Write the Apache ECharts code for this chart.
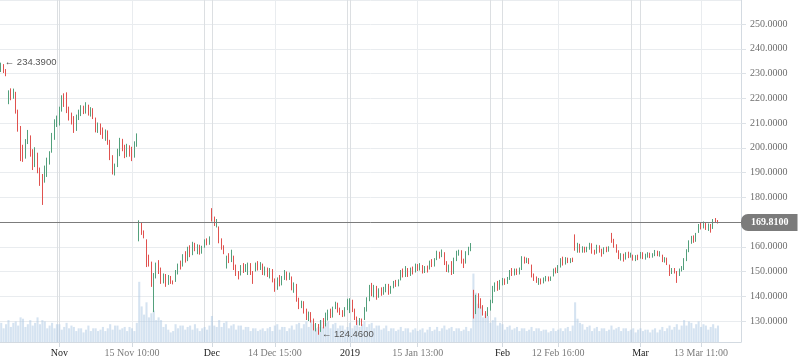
<!DOCTYPE html>
<html><head><meta charset="utf-8">
<script src="https://cdn.jsdelivr.net/npm/echarts@6/dist/echarts.min.js"></script>
<style>html,body{margin:0;padding:0;background:#fff}#c{width:798px;height:363px}</style>
</head><body><div id="c"></div>
<script>
const tradingDays = [
'2018-10-22','2018-10-23','2018-10-24','2018-10-25','2018-10-26','2018-10-29','2018-10-30','2018-10-31',
'2018-11-01','2018-11-02','2018-11-05','2018-11-06','2018-11-07','2018-11-08','2018-11-09','2018-11-12','2018-11-13','2018-11-14','2018-11-15','2018-11-16','2018-11-19','2018-11-20','2018-11-21','2018-11-23','2018-11-26','2018-11-27','2018-11-28','2018-11-29','2018-11-30',
'2018-12-03','2018-12-04','2018-12-06','2018-12-07','2018-12-10','2018-12-11','2018-12-12','2018-12-13','2018-12-14','2018-12-17','2018-12-18','2018-12-19','2018-12-20','2018-12-21','2018-12-24','2018-12-26','2018-12-27','2018-12-28','2018-12-31',
'2019-01-02','2019-01-03','2019-01-04','2019-01-07','2019-01-08','2019-01-09','2019-01-10','2019-01-11','2019-01-14','2019-01-15','2019-01-16','2019-01-17','2019-01-18','2019-01-22','2019-01-23','2019-01-24','2019-01-25','2019-01-28','2019-01-29','2019-01-30','2019-01-31',
'2019-02-01','2019-02-04','2019-02-05','2019-02-06','2019-02-07','2019-02-08','2019-02-11','2019-02-12','2019-02-13','2019-02-14','2019-02-15','2019-02-19','2019-02-20','2019-02-21','2019-02-22','2019-02-25','2019-02-26','2019-02-27','2019-02-28',
'2019-03-01','2019-03-04','2019-03-05','2019-03-06','2019-03-07','2019-03-08','2019-03-11','2019-03-12','2019-03-13','2019-03-14','2019-03-15'];
const sessions = ['a','b','c'];

const opens = [
231.5,233.2,231.0, 219.0,222.5,220.4, 222.0,214.6,208.2, 200.0,196.2,202.8, 204.0,197.5,193.2, 197.0,190.8,188.2, 188.5,190.2,194.6, 199.0,204.8,209.6,
210.5,215.4,219.8, 220.5,215.2,212.6, 211.0,207.6,212.4, 213.5,216.2,214.4, 216.6,213.8,215.2, 211.5,207.4,209.0, 207.0,204.2,206.6, 202.0,196.2,190.8,
193.0,197.8,202.6, 200.2,197.0,200.6, 198.6,197.2,201.4, 164.0,169.4,165.6, 162.6,155.6,153.2, 145.0,148.2,152.8, 151.0,146.2,148.4, 145.0,147.8,145.6,
146.0,149.8,152.6, 152.6,156.4,154.8, 159.2,157.0,160.8, 158.4,160.2,158.0, 160.0,162.2,161.4,
174.6,171.0,169.2, 167.4,162.6,159.8, 152.4,155.6,154.2, 155.8,151.8,149.0, 149.6,151.8,150.2, 150.4,153.0,149.2, 150.6,152.8,151.2, 152.6,149.6,151.0,
148.0,150.6,146.4, 143.4,146.8,145.0, 147.8,149.4,147.2, 147.4,143.2,144.4, 138.6,136.0,137.4, 134.0,131.2,133.0, 130.0,127.0,128.4, 126.2,129.6,128.4,
131.6,133.8,132.0, 135.6,137.0,134.2, 133.0,132.2,135.0,
135.6,137.8,134.4, 131.0,129.0,130.2, 131.2,134.6,138.8, 144.4,141.0,143.8, 140.4,142.6,141.2, 142.6,144.4,141.8, 143.8,145.6,144.6, 147.0,149.8,148.4,
150.6,148.8,150.8, 150.2,152.4,151.0, 152.0,150.0,151.6, 151.4,153.6,152.4, 155.4,157.6,156.2, 157.0,153.4,150.6, 153.6,149.4,154.8, 157.2,158.2,154.0,
153.8,157.4,159.0, 141.8,133.4,138.4, 138.6,135.6,133.0, 132.4,134.8,137.8, 142.6,144.8,143.0,
145.0,146.6,145.4, 147.2,149.8,149.0, 150.4,149.2,151.0, 155.6,153.8,155.0, 152.4,148.6,147.0, 145.4,146.8,145.6, 146.8,147.8,146.4, 148.2,150.6,149.8,
152.2,154.6,153.0, 155.0,153.8,155.0, 164.0,159.4,160.8, 158.4,159.6,158.2, 159.6,161.0,158.0, 157.8,160.2,158.6, 157.4,159.2,158.4, 164.8,162.2,160.4,
158.0,155.6,156.8, 155.2,157.2,156.0, 156.4,155.0,156.2,
155.8,157.4,155.8, 156.2,157.2,156.0, 156.8,158.0,156.8, 156.4,154.4,155.2, 152.4,149.4,150.8, 149.6,148.6,150.6, 151.4,154.8,158.4, 161.8,163.6,162.4,
166.0,168.4,167.8, 169.0,167.4,168.8, 167.6,170.6,170.2];

const closes = [
233.2,231.0,229.6, 222.5,220.4,223.1, 214.6,208.2,199.5, 196.2,202.8,206.4, 197.5,193.2,198.6, 190.8,188.2,183.6, 190.2,194.6,197.4, 204.8,209.6,212.0,
215.4,219.8,218.2, 215.2,212.6,210.4, 207.6,212.4,214.6, 216.2,214.4,217.4, 213.8,215.2,212.4, 207.4,209.0,206.2, 204.2,206.6,202.4, 196.2,190.8,192.4,
197.8,202.6,199.8, 197.0,200.6,198.0, 197.2,201.4,203.4, 169.4,165.6,164.2, 155.6,153.2,146.0, 148.2,152.8,150.4, 146.2,148.4,144.6, 147.8,145.6,145.2,
149.8,152.6,151.4, 156.4,154.8,158.8, 157.0,160.8,159.4, 160.2,158.0,159.6, 162.2,161.4,163.6,
171.0,169.2,170.4, 162.6,159.8,157.8, 155.6,154.2,157.6, 151.8,149.0,147.6, 151.8,150.2,152.4, 153.0,149.2,146.0, 152.8,151.2,153.0, 149.6,151.0,148.4,
150.6,146.4,143.0, 146.8,145.0,147.4, 149.4,147.2,148.8, 143.2,144.4,139.0, 136.0,137.4,133.8, 131.2,133.0,130.2, 127.0,128.4,125.6, 129.6,128.4,132.6,
133.8,132.0,134.8, 137.0,134.2,133.4, 132.2,135.0,138.2,
137.8,134.4,131.2, 129.0,130.2,128.6, 134.6,138.8,143.4, 141.0,143.8,139.6, 142.6,141.2,143.0, 144.4,141.8,143.6, 145.6,144.6,146.2, 149.8,148.4,151.4,
148.8,150.8,149.6, 152.4,151.0,152.8, 150.0,151.6,150.4, 153.6,152.4,154.8, 157.6,156.2,158.2, 153.4,150.6,152.0, 149.4,154.8,157.6, 158.2,154.0,152.0,
157.4,159.0,160.6, 133.4,138.4,136.6, 135.6,133.0,131.8, 134.8,137.8,143.2, 144.8,143.0,145.6,
146.6,145.4,147.2, 149.8,149.0,150.8, 149.2,151.0,155.4, 153.8,155.0,153.6, 148.6,147.0,146.4, 146.8,145.6,147.0, 147.8,146.4,147.6, 150.6,149.8,152.0,
154.6,153.0,155.2, 153.8,155.0,154.4, 159.4,160.8,158.6, 159.6,158.2,159.4, 161.0,158.0,157.6, 160.2,158.6,156.8, 159.2,158.4,159.6, 162.2,160.4,158.2,
155.6,156.8,154.6, 157.2,156.0,157.0, 155.0,156.2,155.2,
157.4,155.8,156.6, 157.2,156.0,156.8, 158.0,156.8,157.6, 154.4,155.2,153.2, 149.4,150.8,149.8, 148.6,150.6,151.6, 154.8,158.4,161.6, 163.6,162.4,165.0,
168.4,167.8,169.4, 167.4,168.8,166.4, 170.6,170.2,169.81];

const lows = [
230.6,230.2,228.9, 217.6,219.2,219.8, 213.8,206.5,194.6, 194.3,195.6,201.5, 196.4,191.0,192.2, 189.7,184.6,176.9, 185.9,188.2,193.2, 198.0,203.2,208.4,
209.0,214.6,216.5, 214.0,211.0,209.4, 206.0,206.8,211.2, 212.8,213.6,213.8, 213.0,212.6,211.6, 206.2,206.0,205.2, 203.6,202.8,201.2, 195.0,189.2,188.8,
192.2,196.6,198.6, 195.8,196.2,196.4, 194.6,196.0,200.4, 162.2,164.8,163.4, 151.8,152.0,143.8, 133.6,147.2,149.0, 145.0,145.2,143.8, 144.6,145.0,144.8,
145.8,148.8,150.8, 152.0,153.6,154.2, 155.8,156.6,158.2, 157.0,156.8,157.2, 159.6,160.6,160.8,
170.2,168.4,167.8, 161.4,158.8,157.0, 151.2,153.4,153.8, 150.6,148.2,146.8, 148.4,149.4,149.8, 148.6,148.6,145.0, 150.0,150.4,150.6, 148.6,148.4,147.8,
147.2,145.6,141.8, 142.6,144.0,144.4, 146.6,146.4,146.6, 142.4,141.4,137.8, 134.8,135.2,133.0, 130.4,130.0,129.4, 126.2,125.8,124.46, 125.6,127.0,127.8,
130.2,131.2,131.4, 134.8,133.4,132.4, 131.6,131.8,134.4,
133.2,133.6,130.4, 128.4,128.2,128.0, 130.4,133.8,138.0, 140.0,139.6,138.6, 139.4,140.2,140.6, 141.6,140.6,141.0, 143.2,143.8,144.0, 146.4,147.6,147.8,
147.8,148.2,148.8, 149.6,150.2,150.4, 149.2,149.4,149.6, 150.8,151.8,152.0, 154.6,155.2,155.8, 152.6,149.8,149.6, 148.6,149.0,154.2, 156.4,153.2,151.4,
153.2,156.6,158.2, 131.0,132.8,135.2, 135.0,132.2,131.2, 132.0,134.2,137.2, 141.8,142.2,142.6,
144.4,144.6,145.0, 146.6,148.2,148.4, 148.6,148.8,150.6, 153.2,153.4,153.0, 147.6,146.2,145.4, 144.6,144.8,145.2, 146.0,146.0,146.2, 148.0,149.2,149.4,
151.6,152.4,152.8, 153.4,153.4,153.8, 158.4,157.6,157.6, 157.6,157.6,157.8, 158.8,157.2,156.8, 157.2,157.6,156.0, 157.0,157.8,158.0, 161.6,159.6,157.6,
155.0,154.4,154.0, 154.8,155.4,155.6, 154.4,154.2,154.6,
155.2,155.0,154.8, 155.6,155.4,155.6, 156.2,156.2,156.0, 153.8,153.6,152.6, 148.2,149.0,149.2, 145.4,148.2,150.0, 150.6,154.2,157.8, 161.2,161.6,162.0,
165.6,167.0,167.4, 166.8,166.4,165.7, 167.2,169.6,169.4];

const highs = [
234.39,233.8,231.8, 223.2,224.0,223.9, 222.6,215.4,208.8, 201.2,203.5,207.2, 205.0,199.4,200.2, 198.0,192.0,189.4, 192.8,196.0,198.6, 206.0,211.5,213.0,
216.6,221.2,222.0, 222.4,216.6,214.2, 212.8,213.4,215.4, 217.2,217.0,218.4, 217.4,216.4,216.0, 212.2,210.2,209.8, 208.2,207.4,207.0, 203.2,197.0,193.6,
199.6,204.0,203.6, 201.2,201.6,201.0, 200.4,202.6,205.8, 170.7,170.0,166.6, 163.0,156.8,154.0, 149.4,153.6,154.6, 151.6,149.2,149.0, 148.6,148.2,146.4,
150.6,153.2,154.4, 157.0,158.2,160.0, 160.6,162.0,161.6, 161.0,160.8,160.4, 163.0,163.4,164.2,
175.6,172.2,171.2, 168.2,163.4,160.6, 156.4,157.4,158.8, 156.4,152.8,150.2, 152.6,153.4,153.0, 153.6,153.4,150.2, 153.6,154.2,153.8, 153.2,152.0,151.6,
151.4,151.0,147.2, 147.6,148.6,148.2, 150.6,150.0,149.6, 148.0,145.6,145.0, 139.4,138.2,138.0, 135.0,133.8,133.6, 131.0,129.2,128.8, 130.4,131.2,133.4,
134.6,135.0,135.8, 137.8,137.4,135.4, 134.4,135.6,139.0,
139.2,138.6,135.0, 131.8,131.2,131.0, 135.6,139.6,144.6, 145.4,144.6,144.2, 143.2,143.6,143.8, 145.0,145.0,144.2, 146.2,146.6,146.8, 150.6,151.2,152.2,
151.4,151.6,152.0, 153.2,153.0,153.4, 152.6,152.2,152.4, 154.4,155.0,155.4, 158.4,158.0,158.9, 157.8,154.2,152.8, 154.2,155.6,158.4, 158.8,158.6,155.2,
158.2,160.0,161.5, 142.6,140.6,141.2, 139.2,136.4,134.0, 135.6,138.6,144.2, 145.6,146.2,146.6,
147.4,147.2,147.8, 150.6,151.4,151.2, 151.2,151.6,156.2, 156.0,155.6,155.4, 152.8,149.2,148.0, 147.4,147.2,147.6, 148.2,148.0,148.0, 151.2,151.6,152.6,
155.4,156.0,155.8, 155.6,155.4,155.6, 165.0,161.6,161.2, 160.2,160.0,160.0, 161.6,161.4,158.8, 160.8,160.6,159.2, 159.8,160.0,160.2, 165.6,163.2,161.0,
158.6,157.4,157.2, 157.8,158.0,157.6, 156.8,156.6,156.8,
157.9,157.8,157.2, 157.8,157.6,157.4, 158.7,158.4,158.2, 156.8,155.8,155.6, 152.8,151.4,151.4, 150.2,151.2,152.2, 155.4,159.0,162.6, 164.4,164.6,165.6,
169.2,169.8,170.2, 169.6,169.4,169.2, 171.2,171.6,170.8];

const volumes = [
1.4,1.0,1.3, 1.6,1.1,1.4, 1.5,1.2,1.8, 1.7,1.1,1.3, 1.6,1.2,1.4, 1.8,1.3,1.6, 1.5,1.0,1.2, 1.4,1.0,1.3,
1.3,0.9,1.1, 1.4,1.0,1.2, 1.1,0.8,1.0, 1.0,0.7,0.9, 1.2,0.8,1.0, 1.0,0.8,0.9, 1.1,0.8,1.0, 1.3,0.9,1.2,
1.2,0.9,1.0, 1.1,0.8,1.1, 1.0,0.8,1.4, 4.4,2.6,2.0, 2.9,1.8,2.1, 2.3,1.6,1.8, 1.6,1.1,1.3, 0.9,0.7,0.8,
1.3,1.0,1.2, 1.2,0.9,1.1, 1.2,0.9,1.3, 1.0,0.8,1.0, 1.1,0.9,1.2,
1.9,1.2,1.1, 1.6,1.1,1.4, 1.5,1.0,1.2, 1.3,0.9,1.2, 1.2,0.9,1.1, 1.1,0.8,1.0, 1.0,0.8,0.9, 1.0,0.8,1.0,
1.1,0.8,1.2, 1.3,0.9,1.1, 1.1,0.8,1.0, 1.2,0.9,1.3, 1.4,1.0,1.3, 1.5,1.1,1.6, 1.3,1.0,1.1, 1.6,1.1,1.4,
1.5,1.0,1.3, 1.4,1.0,1.2, 1.2,0.9,1.1,
1.4,1.0,1.2, 1.6,1.1,1.3, 1.5,1.1,1.3, 1.4,1.0,1.2, 1.2,0.9,1.0, 1.2,0.8,1.0, 1.0,0.8,0.9, 1.1,0.8,1.0,
1.0,0.7,0.9, 1.0,0.8,0.9, 1.0,0.7,0.9, 1.1,0.8,0.9, 1.1,0.8,1.0, 1.2,0.9,1.0, 1.1,0.8,1.0, 1.0,0.8,0.9,
1.1,0.8,1.0, 5.0,3.6,2.8, 2.6,1.8,2.1, 1.9,1.4,1.6, 1.8,1.2,1.4,
1.3,0.9,1.1, 1.2,0.9,1.0, 1.1,0.8,1.0, 1.0,0.8,0.9, 1.1,0.8,1.0, 1.0,0.8,0.9, 0.9,0.7,0.8, 1.0,0.8,0.9,
1.0,0.8,1.0, 1.1,0.8,1.2, 2.9,1.7,1.4, 1.3,0.9,1.1, 1.2,0.8,1.0, 1.1,0.8,1.0, 1.0,0.8,0.9, 1.2,0.9,1.0,
1.1,0.8,1.0, 1.0,0.8,0.9, 1.0,0.7,0.9,
1.0,0.8,0.9, 0.9,0.7,0.9, 1.0,0.7,0.9, 1.1,0.8,1.0, 1.2,0.9,1.1, 1.3,0.9,1.2, 1.6,1.2,1.5, 1.4,1.0,1.3,
1.5,1.1,1.3, 1.2,0.9,1.1, 1.3,1.0,1.2];

// [category, text, isPeriodStart]
const tickLabels = [
['2018-11-01 a','Nov',true],['2018-11-15 a','15 Nov 10:00',false],['2018-12-03 a','Dec',true],
['2018-12-14 c','14 Dec 15:00',false],['2019-01-02 a','2019',true],['2019-01-15 b','15 Jan 13:00',false],
['2019-02-01 a','Feb',true],['2019-02-12 c','12 Feb 16:00',false],['2019-03-01 a','Mar',true],['2019-03-13 b','13 Mar 11:00',false]];
const periodLines = ['2018-10-31 c','2018-11-01 a','2018-11-30 a','2018-12-03 a','2018-12-31 c','2019-01-02 a','2019-01-30 b','2019-02-01 a','2019-02-27 c','2019-03-01 a'];
const emptySlots = 9;

const categories = [];
tradingDays.forEach(d => sessions.forEach(s => categories.push(d + ' ' + s)));
for (let i = 1; i <= emptySlots; i++) categories.push('empty ' + i);

const labelMap = new Map(tickLabels.map(t => [t[0], t]));
const lightSet = new Set(tickLabels.filter(t => !t[2]).map(t => t[0]));
const darkSet = new Set(periodLines);
const candles = opens.map((o, i) => [o, closes[i], lows[i], highs[i]]);
const lastClose = closes[closes.length - 1];

const UP = '#53a07c', DOWN = '#e0524f';
const SERIF = "'Liberation Serif','Times New Roman',serif";

const chart = echarts.init(document.getElementById('c'), null, {renderer: 'canvas'});
chart.setOption({
  animation: false,
  backgroundColor: '#ffffff',
  grid: {left: -2.5, right: 57, top: 0, bottom: 21, containLabel: false},
  xAxis: [{
    type: 'category', data: categories, boundaryGap: true,
    axisLine: {lineStyle: {color: '#d3dae1'}},
    axisTick: {show: true, alignWithLabel: true, length: 5, interval: (i, v) => labelMap.has(v), lineStyle: {color: '#d3dae1'}},
    axisLabel: {
      interval: (i, v) => labelMap.has(v), margin: 6, fontFamily: SERIF, fontSize: 10,
      formatter: v => { const t = labelMap.get(v); if (!t) return ''; return t[2] ? '{m|' + t[1] + '}' : '{d|' + t[1] + '}'; },
      rich: {m: {color: '#222', fontFamily: SERIF, fontSize: 10}, d: {color: '#7a7a7a', fontFamily: SERIF, fontSize: 10}}
    },
    splitLine: {show: true, alignWithLabel: true, interval: (i, v) => lightSet.has(v), lineStyle: {color: '#e9ecef', width: 1}}
  }, {
    type: 'category', data: categories, boundaryGap: true, gridIndex: 0, position: 'bottom',
    axisLine: {show: false}, axisTick: {show: false}, axisLabel: {show: false},
    splitLine: {show: true, alignWithLabel: true, interval: (i, v) => darkSet.has(v), lineStyle: {color: '#dcdfe2', width: 1}}
  }],
  yAxis: [{
    type: 'value', position: 'right', scale: true, min: 121.52, max: 259.7, splitNumber: 14,
    axisLine: {show: true, lineStyle: {color: '#d3dae1'}},
    axisTick: {show: true, length: 5, lineStyle: {color: '#dde2e7'}},
    axisLabel: {margin: 9, color: '#6e6e6e', fontFamily: SERIF, fontSize: 10, showMinLabel: false, showMaxLabel: false,
      formatter: v => v.toFixed(4)},
    splitLine: {show: true, lineStyle: {color: '#e9ecef', width: 1}}
  }, {
    type: 'value', min: 0, max: 25, show: false, splitLine: {show: false}
  }],
  series: [{
    name: 'Volume', type: 'bar', xAxisIndex: 0, yAxisIndex: 1, data: volumes,
    barCategoryGap: '15%', silent: true, z: 1,
    itemStyle: {color: 'rgba(172,199,228,0.5)'}
  }, {
    name: 'Price', type: 'candlestick', xAxisIndex: 0, yAxisIndex: 0, data: candles,
    barWidth: 1.2, z: 3,
    itemStyle: {color: UP, color0: DOWN, borderColor: UP, borderColor0: DOWN, borderWidth: 1},
    markPoint: {
      silent: true, symbol: 'circle', symbolSize: 1, itemStyle: {color: 'rgba(0,0,0,0)'},
      label: {show: true, position: 'right', distance: 3, color: '#555', fontSize: 9.5, fontFamily: "'Liberation Sans',Arial,sans-serif",
        formatter: p => '\u2190 ' + Number(p.value).toFixed(4)},
      data: [{type: 'max', valueDim: 'highest'}, {type: 'min', valueDim: 'lowest'}]
    },
    markLine: {
      silent: true, symbol: ['none', 'none'], animation: false,
      lineStyle: {color: '#7c7c7c', width: 1, type: 'solid'},
      label: {show: true, position: 'end', distance: 0, formatter: p => Number(p.value).toFixed(4),
        backgroundColor: '#7b7b7b', color: '#fff', fontWeight: 'bold', fontFamily: SERIF, fontSize: 10,
        padding: [4, 9, 3, 10], borderRadius: [7, 0, 0, 7]},
      emphasis: {disabled: true},
      data: [{yAxis: lastClose}]
    }
  }]
});
</script></body></html>
